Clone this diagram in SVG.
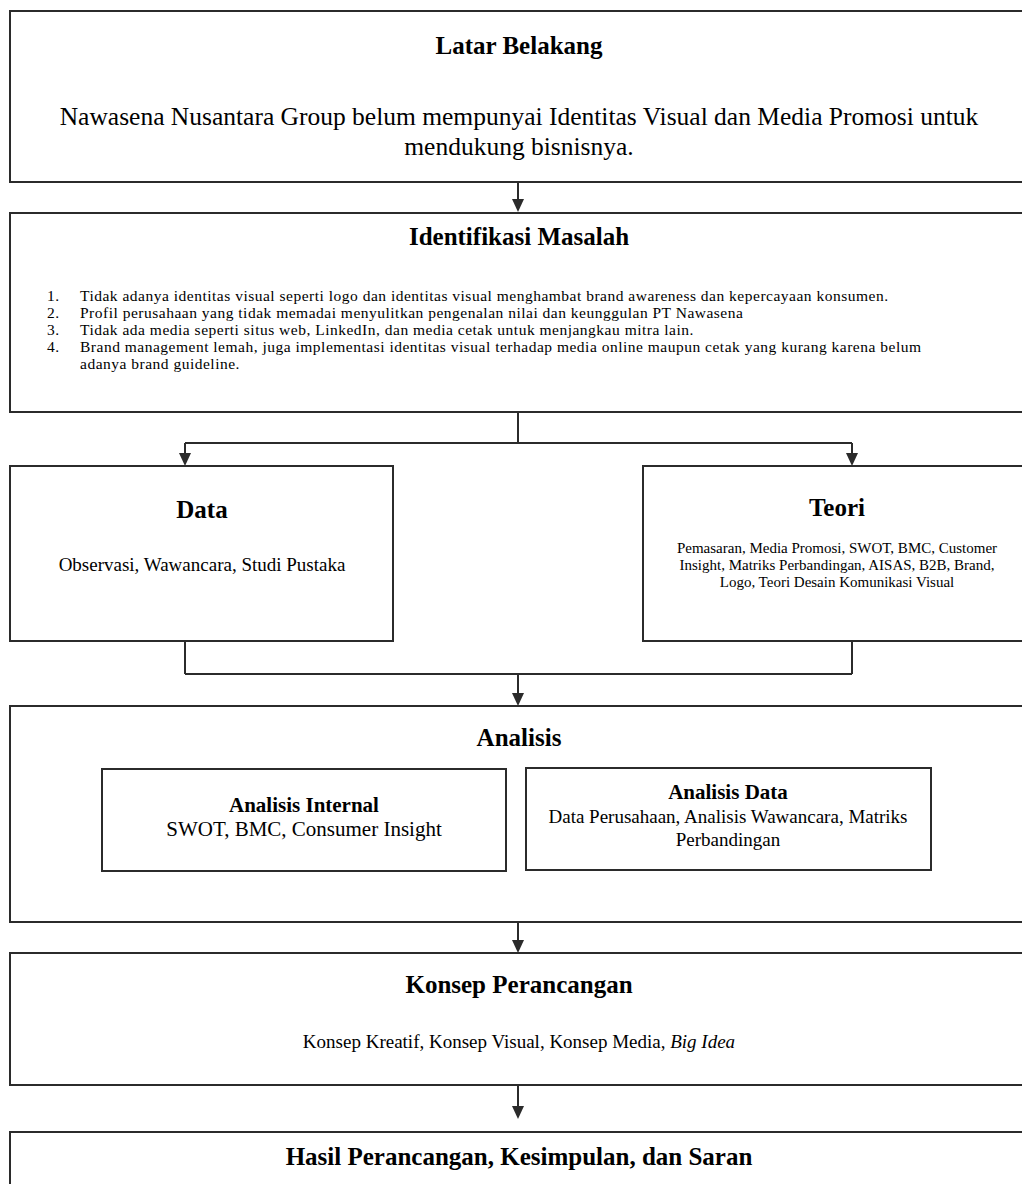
<svg xmlns="http://www.w3.org/2000/svg" width="1022" height="1184" viewBox="0 0 1022 1184">
<defs>
<style>
.box{fill:#fff;stroke:#2b2b2b;stroke-width:2}
.ln{fill:none;stroke:#2b2b2b;stroke-width:2}
.ah{fill:#2b2b2b}
text{font-family:"Liberation Serif","Times New Roman",serif;fill:#000}
.t{font-weight:bold;font-size:25px;text-anchor:middle}
.ts{font-weight:bold;font-size:21px;text-anchor:middle}
.c{text-anchor:middle}
.li{font-size:15.5px;letter-spacing:0.5px}
</style>
</defs>
<rect width="1022" height="1184" fill="#fff"/>

<g id="connectors">
<path class="ln" d="M518,182 V199"/>
<path class="ah" d="M512,199 L524,199 L518,212 Z"/>
<path class="ln" d="M518,412 V443 M185,443 H852 M185,443 V453 M852,443 V453"/>
<path class="ah" d="M179,453 L191,453 L185,466 Z"/>
<path class="ah" d="M846,453 L858,453 L852,466 Z"/>
<path class="ln" d="M185,641 V674 M852,641 V674 M185,674 H852 M518,674 V693"/>
<path class="ah" d="M512,693 L524,693 L518,706 Z"/>
<path class="ln" d="M518,922 V940"/>
<path class="ah" d="M512,940 L524,940 L518,953 Z"/>
<path class="ln" d="M518,1085 V1106"/>
<path class="ah" d="M512,1106 L524,1106 L518,1119 Z"/>
</g>

<g id="latar-belakang">
<rect class="box" x="10" y="11" width="1020" height="171"/>
<text class="t" x="519" y="54">Latar Belakang</text>
<text class="c" x="519" y="125" font-size="25.5">Nawasena Nusantara Group belum mempunyai Identitas Visual dan Media Promosi untuk</text>
<text class="c" x="519" y="155" font-size="25.5">mendukung bisnisnya.</text>
</g>

<g id="identifikasi-masalah">
<rect class="box" x="10" y="213" width="1020" height="199"/>
<text class="t" x="519" y="245">Identifikasi Masalah</text>
<g class="li">
<text x="47" y="301">1.</text><text x="80" y="301">Tidak adanya identitas visual seperti logo dan identitas visual menghambat brand awareness dan kepercayaan konsumen.</text>
<text x="47" y="318">2.</text><text x="80" y="318">Profil perusahaan yang tidak memadai menyulitkan pengenalan nilai dan keunggulan PT Nawasena</text>
<text x="47" y="335">3.</text><text x="80" y="335">Tidak ada media seperti situs web, LinkedIn, dan media cetak untuk menjangkau mitra lain.</text>
<text x="47" y="352">4.</text><text x="80" y="352">Brand management lemah, juga implementasi identitas visual terhadap media online maupun cetak yang kurang karena belum</text>
<text x="80" y="369">adanya brand guideline.</text>
</g>
</g>

<g id="data">
<rect class="box" x="10" y="466" width="383" height="175"/>
<text class="t" x="202" y="518">Data</text>
<text class="c" x="202" y="571" font-size="19">Observasi, Wawancara, Studi Pustaka</text>
</g>

<g id="teori">
<rect class="box" x="643" y="466" width="387" height="175"/>
<text class="t" x="837" y="516">Teori</text>
<text class="c" x="837" y="553" font-size="15">Pemasaran, Media Promosi, SWOT, BMC, Customer</text>
<text class="c" x="837" y="570" font-size="15">Insight, Matriks Perbandingan, AISAS, B2B, Brand,</text>
<text class="c" x="837" y="587" font-size="15">Logo, Teori Desain Komunikasi Visual</text>
</g>

<g id="analisis">
<rect class="box" x="10" y="706" width="1020" height="216"/>
<text class="t" x="519" y="746">Analisis</text>
<g id="analisis-internal">
<rect class="box" x="102" y="769" width="404" height="102"/>
<text class="ts" x="304" y="812">Analisis Internal</text>
<text class="c" x="304" y="836" font-size="21">SWOT, BMC, Consumer Insight</text>
</g>
<g id="analisis-data">
<rect class="box" x="526" y="768" width="405" height="102"/>
<text class="ts" x="728" y="799">Analisis Data</text>
<text class="c" x="728" y="823" font-size="19">Data Perusahaan, Analisis Wawancara, Matriks</text>
<text class="c" x="728" y="846" font-size="19">Perbandingan</text>
</g>
</g>

<g id="konsep-perancangan">
<rect class="box" x="10" y="953" width="1020" height="132"/>
<text class="t" x="519" y="993">Konsep Perancangan</text>
<text class="c" x="519" y="1048" font-size="19">Konsep Kreatif, Konsep Visual, Konsep Media, <tspan font-style="italic">Big Idea</tspan></text>
</g>

<g id="hasil">
<rect class="box" x="10" y="1132" width="1020" height="80"/>
<text class="t" x="519" y="1165">Hasil Perancangan, Kesimpulan, dan Saran</text>
</g>
</svg>
